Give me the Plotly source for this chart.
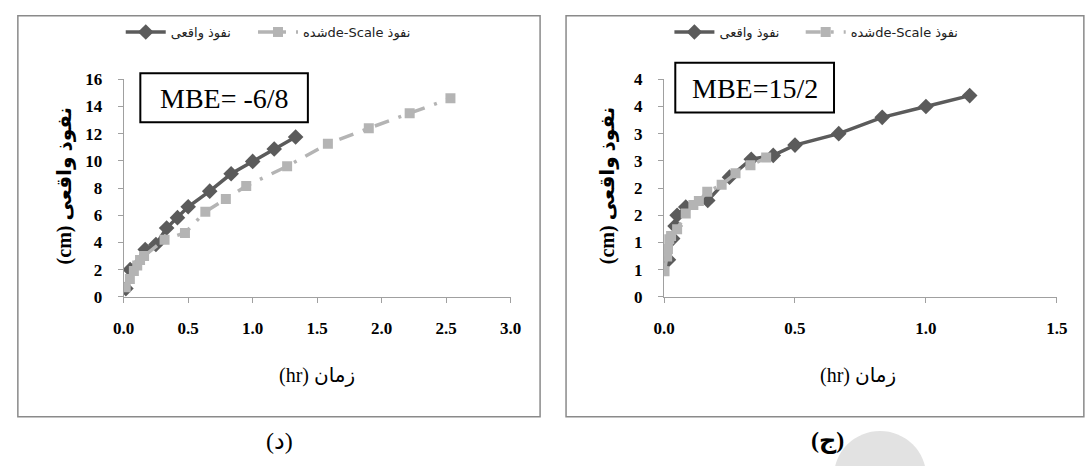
import plotly.graph_objects as go

# ---------------- data ----------------
# panel (د)
d_real_t = [0.017, 0.05, 0.167, 0.25, 0.333, 0.417, 0.5, 0.667, 0.833, 1.0, 1.167, 1.333]
d_real_v = [0.6, 2.0, 3.48, 3.85, 5.06, 5.82, 6.62, 7.77, 9.05, 9.96, 10.87, 11.76]
d_scl_t = [0.016, 0.048, 0.079, 0.105, 0.127, 0.158, 0.317, 0.475, 0.633, 0.792, 0.95,
           1.267, 1.583, 1.9, 2.217, 2.533]
d_scl_v = [0.7, 1.3, 1.9, 2.3, 2.7, 3.0, 4.2, 4.7, 6.25, 7.2, 8.15, 9.6, 11.25, 12.4, 13.5, 14.6]

# panel (ج)
j_real_t = [0.017, 0.033, 0.042, 0.05, 0.083, 0.167, 0.25, 0.333, 0.417, 0.5, 0.667, 0.833, 1.0, 1.167]
j_real_v = [0.68, 1.07, 1.3, 1.5, 1.65, 1.77, 2.2, 2.53, 2.6, 2.79, 3.0, 3.3, 3.5, 3.7]
j_scl_t = [0.002, 0.012, 0.015, 0.02, 0.027, 0.05, 0.083, 0.112, 0.133, 0.165, 0.22, 0.273, 0.33, 0.39]
j_scl_v = [0.47, 0.74, 0.88, 1.06, 1.12, 1.24, 1.53, 1.69, 1.76, 1.93, 2.06, 2.27, 2.42, 2.56]

d_xticks = [0.0, 0.5, 1.0, 1.5, 2.0, 2.5, 3.0]
d_yticks = [0, 2, 4, 6, 8, 10, 12, 14, 16]
j_xticks = [0.0, 0.5, 1.0, 1.5]
j_yticks = [0, 0.5, 1, 1.5, 2, 2.5, 3, 3.5, 4]
j_yticktext = ["0", "1", "1", "2", "2", "3", "3", "4", "4"]

name_real = "نفوذ واقعی"
name_scl = "\u202bنفوذ de-Scaleشده\u202c"
xtitle = "\u202bزمان (hr)\u202c"
ytitle = "\u202bنفوذ واقعی (cm)\u202c"
captions = ["(د)", "(ج)"]
mbe_label = "MBE="
mbe_vals = [" -6/8", "15/2"]

W, H = 1088, 466
def px(x):
    return x / W
def py(y):
    return (H - y) / H

DARK = "#5b5b5b"
LIGHT = "#b4b4b4"
SERIF = "Liberation Serif"
AR = "DejaVu Sans"

fig = go.Figure()

dash_pat = "15px,10px,3px,10px"

fig.add_trace(go.Scatter(x=d_real_t, y=d_real_v, name=name_real, mode="lines+markers",
                         line=dict(color=DARK, width=3.5),
                         marker=dict(symbol="diamond", size=12, color=DARK),
                         xaxis="x", yaxis="y", legend="legend"))
fig.add_trace(go.Scatter(x=d_scl_t, y=d_scl_v, name=name_scl, mode="lines+markers",
                         line=dict(color=LIGHT, width=3.5, dash=dash_pat),
                         marker=dict(symbol="square", size=10, color=LIGHT),
                         xaxis="x", yaxis="y", legend="legend2"))
fig.add_trace(go.Scatter(x=j_real_t, y=j_real_v, name=name_real, mode="lines+markers",
                         line=dict(color=DARK, width=3.5),
                         marker=dict(symbol="diamond", size=12, color=DARK),
                         xaxis="x2", yaxis="y2", legend="legend3"))
fig.add_trace(go.Scatter(x=j_scl_t, y=j_scl_v, name=name_scl, mode="lines+markers",
                         line=dict(color=LIGHT, width=3.5, dash=dash_pat),
                         marker=dict(symbol="square", size=10, color=LIGHT),
                         xaxis="x2", yaxis="y2", legend="legend4"))

axis_common = dict(showline=True, linecolor="#a0a0a0", linewidth=1.2, ticks="outside",
                   tickcolor="#a0a0a0", ticklen=5, showgrid=False, zeroline=False,
                   tickfont=dict(family=SERIF, size=17, color="#000", weight="bold"))

ydom = [py(300), py(73.3)]
leg_common = dict(orientation="h", yanchor="middle", xanchor="left",
                  font=dict(family=AR, size=13, color="#222"), bgcolor="rgba(0,0,0,0)",
                  itemwidth=40, tracegroupgap=0)
fig.update_layout(
    width=W, height=H, margin=dict(l=0, r=0, t=0, b=0),
    paper_bgcolor="white", plot_bgcolor="white",
    xaxis=dict(domain=[px(115), px(510)], range=[0, 3.0], tickvals=d_xticks,
               tickformat=".1f", anchor="y", ticklabelstandoff=11, **axis_common),
    yaxis=dict(domain=ydom, range=[0, 16], tickvals=d_yticks, anchor="x",
               ticklabelstandoff=12, **axis_common),
    xaxis2=dict(domain=[px(666.5), px(1067.5)], range=[0, 1.5], tickvals=j_xticks,
                tickformat=".1f", anchor="y2", ticklabelstandoff=11, **axis_common),
    yaxis2=dict(domain=ydom, range=[0, 4], tickvals=j_yticks, ticktext=j_yticktext,
                anchor="x2", ticklabelstandoff=12, **axis_common),
    legend=dict(x=px(112), y=py(24), **leg_common),
    legend2=dict(x=px(247), y=py(24), **leg_common),
    legend3=dict(x=px(672), y=py(24), **leg_common),
    legend4=dict(x=px(806), y=py(24), **leg_common),
    showlegend=True,
)

shapes = []
# watermark circle
shapes.append(dict(type="circle", xref="paper", yref="paper", x0=px(840), x1=px(934),
                   y0=py(534), y1=py(440), fillcolor="#e2e2e2", line=dict(width=0), layer="below"))
# frames
shapes.append(dict(type="rect", xref="paper", yref="paper", x0=px(7), x1=px(540),
                   y0=py(425), y1=py(7), line=dict(color="#8a8a8a", width=1.5)))
shapes.append(dict(type="rect", xref="paper", yref="paper", x0=px(566.5), x1=px(1095),
                   y0=py(425), y1=py(7), line=dict(color="#8a8a8a", width=1.5)))
fig.update_layout(shapes=shapes)

annotations = []
boxes = [(132, 303, 67, 118), (678, 840, 56, 108)]
for i, (x0, x1, y0, y1) in enumerate(boxes):
    fig.add_shape(type="rect", xref="paper", yref="paper", x0=px(x0), x1=px(x1),
                  y0=py(y1), y1=py(y0), line=dict(color="#000", width=2), fillcolor="white")
    txt = mbe_label + "<span style='font-family:Liberation Sans Narrow'>" + mbe_vals[i] + "</span>"
    annotations.append(dict(xref="paper", yref="paper", x=px((x0 + x1) / 2), y=py((y0 + y1) / 2 + 1),
                            text=txt, showarrow=False, xanchor="center", yanchor="middle",
                            font=dict(family=SERIF, size=28, color="#000")))

# axis titles
for xc, yc in [(312, 382), (864, 382)]:
    annotations.append(dict(xref="paper", yref="paper", x=px(xc), y=py(yc), text=xtitle,
                            showarrow=False, xanchor="center", yanchor="middle",
                            font=dict(family=SERIF + ", " + AR, size=20, color="#000")))
for xc in [55, 609]:
    annotations.append(dict(xref="paper", yref="paper", x=px(xc), y=py(184), text=ytitle,
                            showarrow=False, xanchor="center", yanchor="middle", textangle=-90,
                            font=dict(family=SERIF + ", " + AR, size=20, color="#000", weight="bold")))
# captions
annotations.append(dict(xref="paper", yref="paper", x=px(274), y=py(450), text=captions[0],
                        showarrow=False, xanchor="center", yanchor="middle",
                        font=dict(family=SERIF + ", " + AR, size=24, color="#000")))
annotations.append(dict(xref="paper", yref="paper", x=px(833), y=py(450), text=captions[1],
                        showarrow=False, xanchor="center", yanchor="middle",
                        font=dict(family=SERIF + ", " + AR, size=24, color="#000", weight="bold")))
fig.update_layout(annotations=annotations)

fig.write_html("out.html")
